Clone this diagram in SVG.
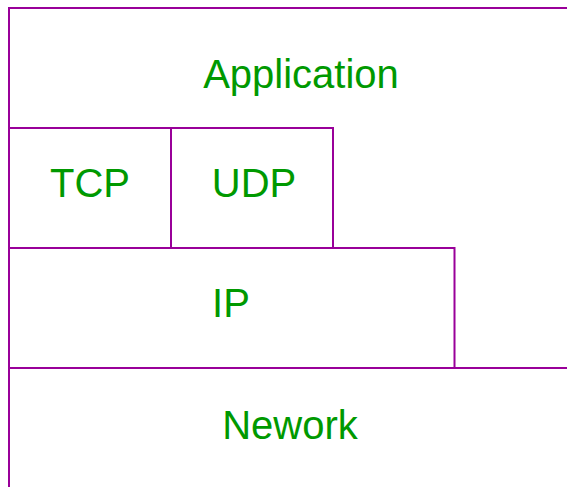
<svg xmlns="http://www.w3.org/2000/svg" width="567" height="487" viewBox="0 0 567 487">
  <style>
    .layer { fill: none; stroke: #990099; stroke-width: 2; }
    .label { font-family: "Liberation Sans", Arial, sans-serif; font-size: 40px; fill: #009900; text-anchor: middle; }
  </style>
  <rect x="0" y="0" width="567" height="487" fill="#ffffff"/>
  <g id="application">
    <!-- open at the bottom: the lower layers close it -->
    <path class="layer" d="M9 487 V8 H567"/>
    <text class="label" x="301" y="88">Application</text>
  </g>
  <g id="tcp">
    <rect class="layer" x="9" y="128" width="162" height="120"/>
    <text class="label" x="90" y="197">TCP</text>
  </g>
  <g id="udp">
    <rect class="layer" x="171" y="128" width="162" height="120"/>
    <text class="label" x="254" y="197">UDP</text>
  </g>
  <g id="ip">
    <rect class="layer" x="9" y="248" width="445.5" height="120"/>
    <text class="label" x="231" y="317">IP</text>
  </g>
  <g id="network">
    <path class="layer" d="M9 487 V368 H567"/>
    <text class="label" x="290" y="439">Nework</text>
  </g>
  <g id="connectors"/>
</svg>
